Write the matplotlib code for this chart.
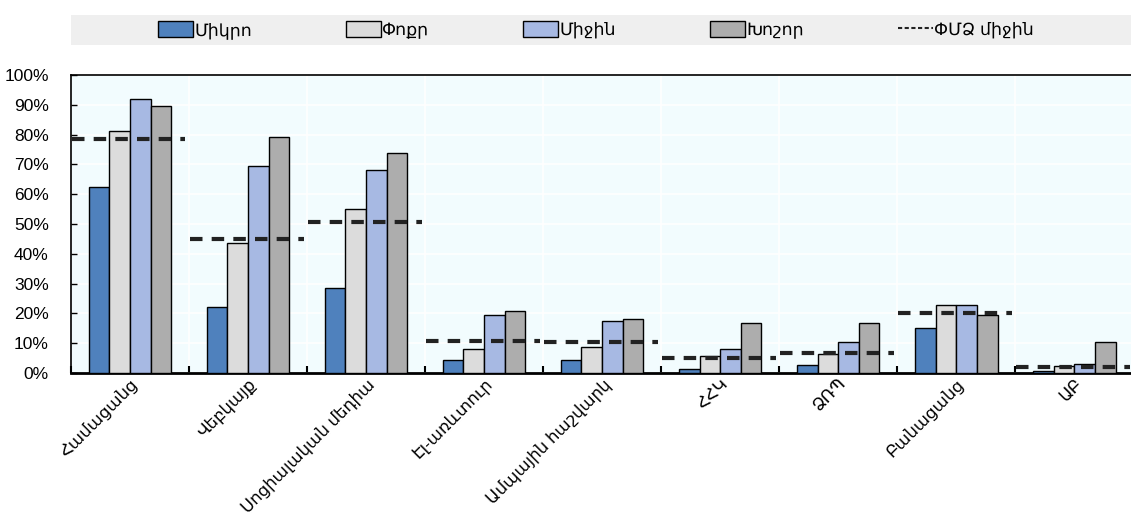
import matplotlib.pyplot as plt
import numpy as np
from matplotlib.patches import Patch, Rectangle
from matplotlib.lines import Line2D
from matplotlib.ticker import FixedLocator, NullFormatter, PercentFormatter
from matplotlib.transforms import ScaledTranslation

plt.rcParams['font.family'] = ['Liberation Sans', 'DejaVu Sans']

categories = ['Համացանց', 'Վեբկայք', 'Սոցիալական մեդիա', 'Էլ-առևտուր',
              'Ամպային հաշվարկ', 'ՀՀԿ', 'ՁՌՊ', 'Բանացանց', 'ԱԲ']
series_names = ['Միկրո', 'Փոքր', 'Միջին', 'Խոշոր']
avg_name = 'ՓՄՁ միջին'

micro = [62.4, 22.2, 28.5, 4.3, 4.2, 1.5, 2.7, 15.1, 0.8]
small = [81.1, 43.5, 55.2, 8.1, 8.6, 5.8, 6.4, 22.9, 2.4]
medium = [92.0, 69.5, 68.1, 19.5, 17.6, 8.1, 10.3, 22.9, 3.0]
large = [89.7, 79.3, 73.9, 20.7, 18.1, 16.9, 16.9, 19.6, 10.4]
sme_avg = [78.6, 45.0, 50.8, 10.8, 10.3, 5.2, 6.7, 20.3, 2.1]

colors = ['#4F81BD', '#DCDCDC', '#A7B9E3', '#ADADAD']

fig = plt.figure(figsize=(11.31, 5.26), dpi=100)
ax = fig.add_axes([71 / 1131, 1 - 373 / 526, 1 - 71 / 1131 + 0.002, (373 - 75) / 526])
ax.set_facecolor('#F2FCFE')

x = np.arange(len(categories))
w = 0.175
for k, vals in enumerate([micro, small, medium, large]):
    ax.bar(x + (k - 1.5) * w, vals, w, color=colors[k], edgecolor='black',
           linewidth=1.0, zorder=3)

for i, v in enumerate(sme_avg):
    ax.hlines(v, i - 0.49, i + 0.47, colors='#222222', linestyles=(0, (3, 2.2)),
              linewidth=3, zorder=4)

ax.set_xlim(-0.5, len(categories) - 0.5)
ax.set_ylim(0, 100)
ax.yaxis.set_major_locator(FixedLocator(np.arange(0, 101, 10)))
ax.yaxis.set_major_formatter(PercentFormatter(decimals=0))
ax.grid(axis='y', color='white', linewidth=1.2, zorder=1)

ax.xaxis.set_major_locator(FixedLocator(np.arange(-0.5, len(categories), 1)))
ax.xaxis.set_major_formatter(NullFormatter())
ax.xaxis.set_minor_locator(FixedLocator(x))
ax.set_xticklabels(categories, minor=True, rotation=45, ha='right',
                   rotation_mode='anchor', fontsize=12)
shift = ScaledTranslation(10 / 100, 0, fig.dpi_scale_trans)
for lab in ax.get_xticklabels(minor=True):
    lab.set_transform(lab.get_transform() + shift)
ax.tick_params(axis='x', which='minor', length=0, pad=2)
ax.tick_params(axis='x', which='major', direction='in', length=5, width=1.5)
ax.grid(axis='x', which='major', color='white', linewidth=1.2, zorder=1)
ax.tick_params(axis='y', direction='in', length=4, width=1, labelsize=12.5, pad=16)

for side in ['left', 'top', 'right']:
    ax.spines[side].set_linewidth(1.2)
ax.spines['bottom'].set_linewidth(2)

fig.patches.append(Rectangle((71 / 1131, 1 - 45 / 526), 1 - 71 / 1131, 30 / 526,
                             transform=fig.transFigure, facecolor='#EFEFEF',
                             edgecolor='none', zorder=0))
handles = [Patch(facecolor=c, edgecolor='black', linewidth=1) for c in colors]
handles.append(Line2D([0], [0], color='#222222', linestyle=(0, (2, 1.2)), linewidth=1.5))
fig.legend(handles, series_names + [avg_name], loc='center',
           bbox_to_anchor=(0.527, 1 - 30 / 526), ncol=5, frameon=False,
           fontsize=12.5, handlelength=2.0, handleheight=1.0, handletextpad=0.1,
           columnspacing=5.4)

fig.savefig('out.png', dpi=100)
